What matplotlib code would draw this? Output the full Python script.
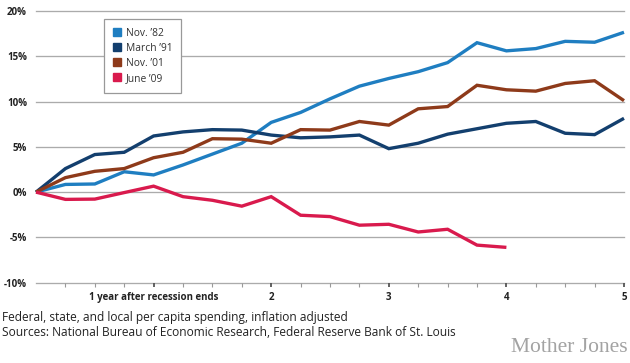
import matplotlib
matplotlib.use("Agg")
import matplotlib.pyplot as plt
from matplotlib.lines import Line2D
import numpy as np

# ---- data (percent change, quarters after recession ends) ----
quarters = [q / 4 for q in range(21)]
nov82 = [0, 0.85, 0.9, 2.25, 1.9, 3.0, 4.2, 5.4, 7.7, 8.8, 10.3, 11.7, 12.55, 13.3, 14.3, 16.5, 15.6, 15.85, 16.65, 16.55, 17.65]
mar91 = [0, 2.6, 4.15, 4.4, 6.2, 6.65, 6.9, 6.85, 6.3, 6.0, 6.1, 6.3, 4.8, 5.4, 6.4, 7.0, 7.6, 7.8, 6.5, 6.35, 8.15]
nov01 = [0, 1.6, 2.3, 2.6, 3.8, 4.4, 5.9, 5.85, 5.4, 6.9, 6.85, 7.8, 7.4, 9.2, 9.45, 11.8, 11.3, 11.15, 12.0, 12.3, 10.1]
jun09 = [0, -0.8, -0.77, -0.05, 0.66, -0.5, -0.9, -1.55, -0.5, -2.55, -2.7, -3.65, -3.55, -4.4, -4.1, -5.85, -6.1]

series_labels = ["Nov. \u201982", "March \u201991", "Nov. \u201901", "June \u201909"]
series_colors = ["#1f7ec1", "#133f6e", "#8e3a1a", "#d91a4d"]
series_values = [nov82, mar91, nov01, jun09]

y_ticks = [-10, -5, 0, 5, 10, 15, 20]
y_tick_labels = ["-10%", "-5%", "0%", "5%", "10%", "15%", "20%"]
x_major = [1, 2, 3, 4, 5]
x_major_labels = ["1 year after recession ends", "2", "3", "4", "5"]

note_lines = ["Federal, state, and local per capita spending, inflation adjusted",
              "Sources: National Bureau of Economic Research, Federal Reserve Bank of St. Louis"]
brand = "Mother Jones"

# ---- figure ----
W, H = 630, 363
fig = plt.figure(figsize=(W / 100, H / 100), dpi=100)
ax_left, ax_right, ax_top, ax_bottom = 36, 624, 11, 282.7
ax = fig.add_axes([ax_left / W, 1 - ax_bottom / H, (ax_right - ax_left) / W, (ax_bottom - ax_top) / H])
ax.set_xlim(0, 5)
ax.set_ylim(-10, 20)

font = "Open Sans"
grid_color = "#ababab"

for yv in y_ticks:
    ax.axhline(yv, color=grid_color, lw=0.95, zorder=1, clip_on=False)

for vals, col in zip(series_values, series_colors):
    ax.plot(quarters[:len(vals)], vals, color=col, lw=2.4, solid_joinstyle="miter",
            solid_capstyle="butt", zorder=3, clip_on=False)

for s in ax.spines.values():
    s.set_visible(False)

ax.set_yticks(y_ticks)
ax.set_yticklabels(y_tick_labels, fontfamily=font, fontweight="bold", fontsize=7.0, color="#222222")
ax.tick_params(axis="y", length=0, pad=6.5)

ax.set_xticks(x_major)
ax.set_xticklabels(x_major_labels, fontfamily=font, fontweight="bold", fontsize=7.0, color="#222222")
ax.set_xticks([q / 4 for q in range(1, 20) if q % 4 != 0], minor=True)
ax.tick_params(axis="x", which="major", direction="out", length=3, width=1.3, color="#555555", pad=3.5)
ax.tick_params(axis="x", which="minor", direction="out", length=3, width=0.8, color="#999999")

handles = [Line2D([], [], ls="none", marker="s", markersize=5.2, markerfacecolor=c, markeredgecolor=c)
           for c in series_colors]
leg = ax.legend(handles, series_labels, loc="upper left", bbox_to_anchor=(0.1156, 0.9705),
                borderaxespad=0, frameon=True, fancybox=False, framealpha=1,
                edgecolor="#999999", prop={"family": font, "size": 7.4},
                handlelength=0.8, handletextpad=0.5, labelspacing=0.4,
                borderpad=0.85)
leg.get_frame().set_linewidth(0.9)
leg.set_zorder(5)
for t in leg.get_texts():
    t.set_color("#333333")

fig.text(2 / W, 1 - 317 / H, note_lines[0], fontfamily=font, fontsize=8.6, color="#222222",
         ha="left", va="center")
fig.text(2 / W, 1 - 332.5 / H, note_lines[1], fontfamily=font, fontsize=8.6, color="#222222",
         ha="left", va="center")
fig.text(628 / W, 1 - 347 / H, brand, fontfamily="Liberation Serif", fontsize=15.5, color="#a3a3a3",
         ha="right", va="center")

fig.savefig("out.png", dpi=100)
